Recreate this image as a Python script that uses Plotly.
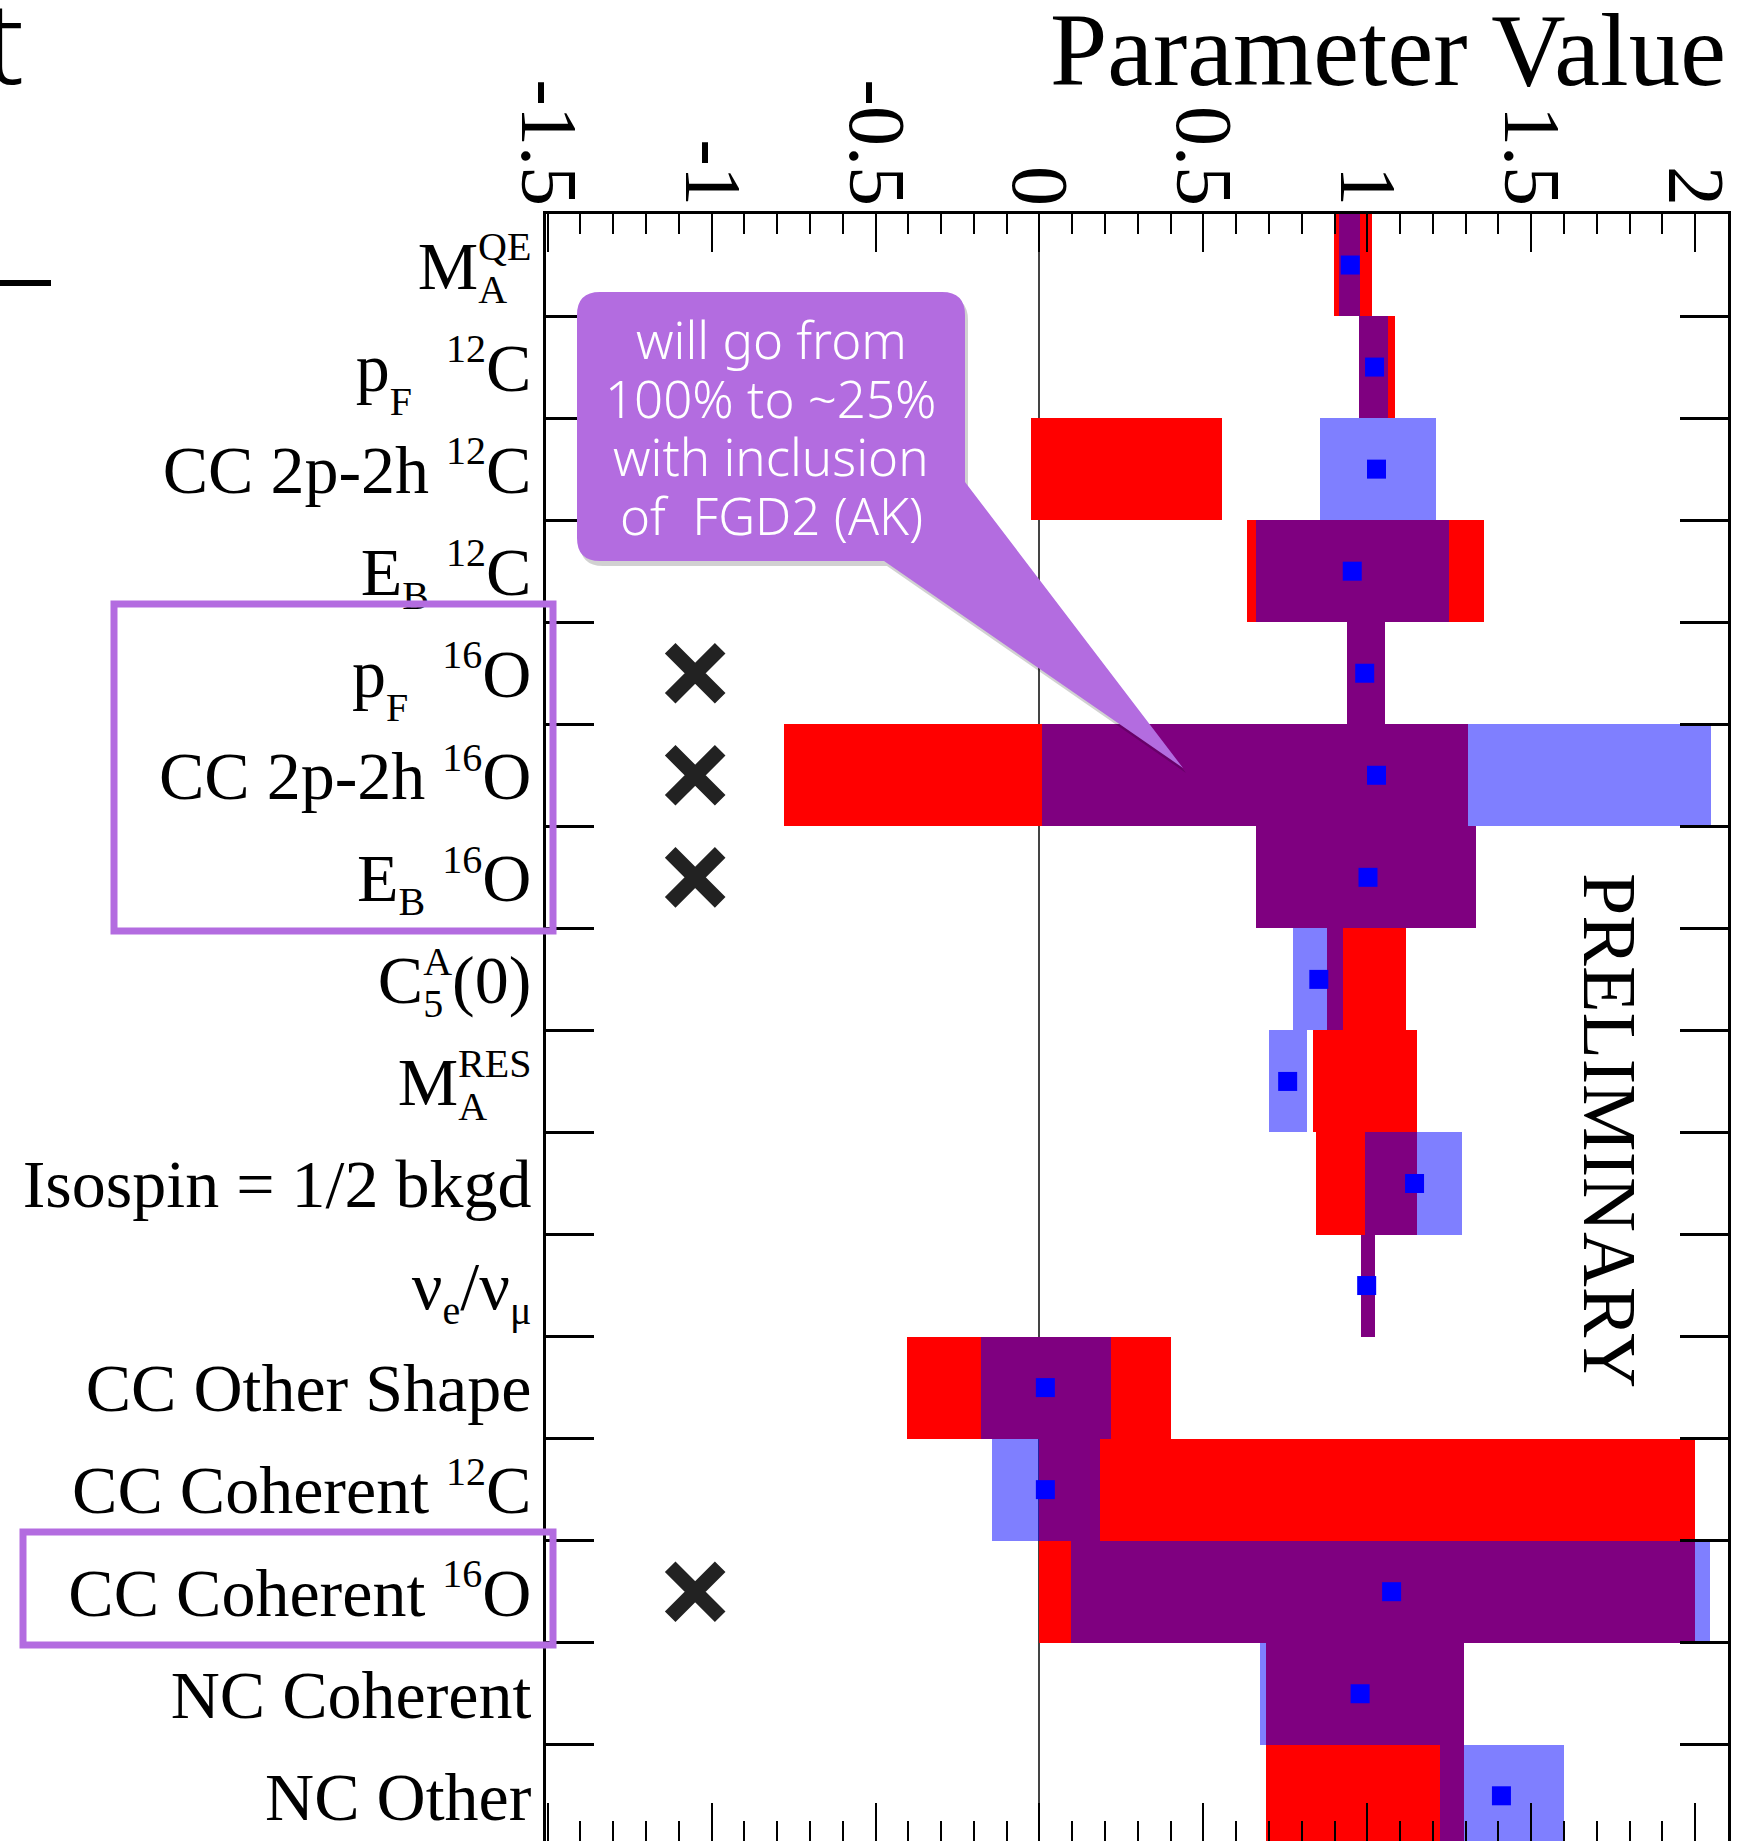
import plotly.graph_objects as go

# ---------------- data ----------------
def sup(s):
    return "<sup><span style='font-size:40px'>" + s + "</span></sup>"

def sub(s):
    return "<sub><span style='font-size:40px'>" + s + "</span></sub>"

def sub_low(s):
    return "<sub><sub><span style='font-size:40px'>" + s + "</span></sub></sub>"

def stacked(lo, hi, lo_width):
    # subscript with (almost) zero advance so the superscript sits above it
    return ("<sub><span style='font-size:40px;letter-spacing:-" + str(lo_width) + "px'>"
            + lo + "</span></sub>" + sup(hi))

param_labels = [
    "M" + stacked("A", "QE", 29),
    "p" + sub_low("F") + "\u00a0\u00a0" + sup("12") + "C",
    "CC 2p-2h\u00a0" + sup("12") + "C",
    "E" + sub("B") + "\u00a0" + sup("12") + "C",
    "p" + sub_low("F") + "\u00a0\u00a0" + sup("16") + "O",
    "CC 2p-2h\u00a0" + sup("16") + "O",
    "E" + sub("B") + "\u00a0" + sup("16") + "O",
    "C" + stacked("5", "A", 20) + "(0)",
    "M" + stacked("A", "RES", 29),
    "Isospin = 1/2 bkgd",
    "\u03bd" + sub("e") + "/\u03bd" + sub("\u03bc"),
    "CC Other Shape",
    "CC Coherent\u00a0" + sup("12") + "C",
    "CC Coherent\u00a0" + sup("16") + "O",
    "NC Coherent",
    "NC Other",
]
row_index = list(range(len(param_labels)))

# prior uncertainty band (red)
prior_low = [0.897, 0.974, -0.026, 0.632, 0.937, -0.778, 0.661, 0.878,
             0.834, 0.843, 0.980, -0.404, 0.000, 0.000, 0.692, 0.692]
prior_high = [1.013, 1.085, 0.557, 1.357, 1.053, 1.306, 1.330, 1.119,
              1.152, 1.152, 1.024, 0.400, 2.000, 2.000, 1.296, 1.296]
# post-fit uncertainty band (blue) and central value
post_low = [0.913, 0.974, 0.856, 0.661, 0.937, 0.007, 0.661, 0.773,
            0.700, 0.992, 0.980, -0.177, -0.145, 0.095, 0.673, 1.222]
post_high = [0.977, 1.063, 1.209, 1.250, 1.053, 2.048, 1.330, 0.926,
             0.817, 1.290, 1.024, 0.219, 0.184, 2.045, 1.296, 1.601]
post_value = [0.948, 1.022, 1.028, 0.954, 0.992, 1.028, 1.002, 0.852,
              0.757, 1.144, 0.998, 0.018, 0.018, 1.074, 0.978, 1.409]

# parameters to be removed (marked with a cross)
removed_rows = [4, 5, 6, 13]
removed_x = -1.05

x_tick_vals = [-1.5, -1, -0.5, 0, 0.5, 1, 1.5, 2]
x_tick_text = ["-1.5", "-1", "-0.5", "0", "0.5", "1", "1.5", "2"]

callout_lines = ["will go from", "100% to ~25%", "with inclusion", "of\u00a0 FGD2 (AK)"]

# ---------------- layout geometry ----------------
W, H = 1750, 1841
L, R, T, B = 546, 1728, 214, 1841

def px_x(p):
    return (p - L) / (R - L)

def px_y(p):
    return (B - p) / (B - T)

SERIF = "Liberation Serif, Times New Roman, serif"
SANS = "Noto Sans, Open Sans, sans-serif"
PURPLE = "#b36ce0"

fig = go.Figure()

fig.add_trace(go.Bar(
    y=row_index, base=prior_low,
    x=[h - l for l, h in zip(prior_low, prior_high)],
    orientation="h", width=1.0,
    marker=dict(color="#ff0000", line=dict(width=0)),
    hoverinfo="skip",
))
fig.add_trace(go.Bar(
    y=row_index, base=post_low,
    x=[h - l for l, h in zip(post_low, post_high)],
    orientation="h", width=1.0,
    marker=dict(color="rgba(0,0,255,0.5)", line=dict(width=0)),
    hoverinfo="skip",
))
fig.add_trace(go.Scatter(
    x=post_value, y=row_index, mode="markers",
    marker=dict(symbol="square", size=19, color="#0000ff", line=dict(width=0)),
    hoverinfo="skip",
))
fig.add_trace(go.Scatter(
    x=[removed_x] * len(removed_rows), y=removed_rows, mode="markers",
    marker=dict(symbol="x-thin", size=50, color="#222222",
                line=dict(width=15, color="#222222")),
    hoverinfo="skip", cliponaxis=False,
))

# ---------------- shapes ----------------
shapes = []

# callout bubble
x0, x1, y0, y1, r = 577, 965, 292, 561, 23
tail_a = (965, 482)
tip = (1183, 768)
tail_b = (884, 561)

def callout_path(dx=0, dy=0):
    def P(x, y):
        return f"{px_x(x + dx):.5f},{px_y(y + dy):.5f}"
    return ("M" + P(x0 + r, y0) + " L" + P(x1 - r, y0) +
            " Q" + P(x1, y0) + " " + P(x1, y0 + r) +
            " L" + P(*tail_a) + " L" + P(*tip) + " L" + P(*tail_b) +
            " L" + P(x0 + r, y1) + " Q" + P(x0, y1) + " " + P(x0, y1 - r) +
            " L" + P(x0, y0 + r) + " Q" + P(x0, y0) + " " + P(x0 + r, y0) + " Z")

shapes.append(dict(type="path", xref="paper", yref="paper", path=callout_path(3, 5),
                   fillcolor="rgba(0,0,0,0.18)", line=dict(width=0), layer="above"))
shapes.append(dict(type="path", xref="paper", yref="paper", path=callout_path(),
                   fillcolor=PURPLE, line=dict(width=0), layer="above"))

# highlight boxes around removed parameter labels
for (bx0, by0, bx1, by1) in [(114, 604, 553, 931), (23, 1532, 553, 1645)]:
    shapes.append(dict(type="rect", xref="paper", yref="paper",
                       x0=px_x(bx0), x1=px_x(bx1), y0=px_y(by1), y1=px_y(by0),
                       line=dict(color=PURPLE, width=7), fillcolor="rgba(0,0,0,0)",
                       layer="above"))

# slide fragment line (top-left)
shapes.append(dict(type="line", xref="paper", yref="paper",
                   x0=px_x(0), x1=px_x(51), y0=px_y(283), y1=px_y(283),
                   line=dict(color="black", width=6)))

# ---------------- annotations ----------------
annotations = [
    dict(text="Parameter Value", xref="paper", yref="paper", x=1.0, y=px_y(50),
         xanchor="right", yanchor="middle", showarrow=False,
         font=dict(family=SERIF, size=103, color="black")),
    dict(text="PRELIMINARY", xref="paper", yref="paper", x=px_x(1610), y=px_y(1130),
         xanchor="center", yanchor="middle", textangle=90, showarrow=False,
         font=dict(family=SERIF, size=76, color="black")),
    dict(text="t", xref="paper", yref="paper", x=px_x(26), y=px_y(40),
         xanchor="right", yanchor="middle", showarrow=False,
         font=dict(family=SANS, size=115, color="black", weight=300)),
]
callout_line_y = [339, 397.5, 456, 515]
for txt, ly in zip(callout_lines, callout_line_y):
    annotations.append(dict(text=txt, xref="paper", yref="paper",
                            x=px_x(771), y=px_y(ly), xanchor="center", yanchor="middle",
                            showarrow=False,
                            font=dict(family=SANS, size=51, color="white", weight=300)))

fig.update_layout(
    template="none",
    width=W, height=H,
    margin=dict(l=L, r=W - R, t=T, b=H - B, pad=0),
    paper_bgcolor="white", plot_bgcolor="white",
    barmode="overlay", bargap=0,
    showlegend=False,
    shapes=shapes, annotations=annotations,
    xaxis=dict(
        range=[-1.505, 2.1], side="top", automargin=False,
        tickmode="array", tickvals=x_tick_vals, ticktext=x_tick_text,
        tickangle=90, tickfont=dict(family=SERIF, size=80, color="black"),
        ticks="inside", ticklen=38, tickwidth=2, tickcolor="black",
        minor=dict(tickmode="linear", tick0=0, dtick=0.1, ticks="inside",
                   ticklen=20, tickwidth=2, tickcolor="black", showgrid=False),
        showline=True, linewidth=3, linecolor="black", mirror="ticks",
        showgrid=False, zeroline=True, zerolinecolor="#444444", zerolinewidth=2,
        ticklabelstandoff=-23,
    ),
    yaxis=dict(
        range=[15.443, -0.5], automargin=False,
        tickmode="array", tickvals=row_index, ticktext=param_labels,
        ticks="", tickfont=dict(family=SERIF, size=68, color="black"),
        minor=dict(tickmode="array", tickvals=[i + 0.5 for i in row_index[:-1]],
                   ticks="inside", ticklen=48, tickwidth=2.5, tickcolor="black",
                   showgrid=False),
        showline=True, linewidth=3, linecolor="black", mirror="ticks",
        showgrid=False, zeroline=False, ticklabelstandoff=-2,
    ),
)

fig.write_html("out.html", config={"displayModeBar": False},
               post_script="document.body.style.margin='0';")
